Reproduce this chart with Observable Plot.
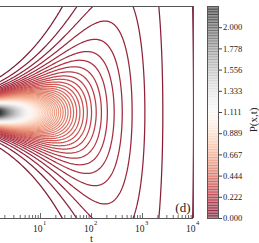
<!DOCTYPE html>
<html><head><meta charset="utf-8">
<script src="https://cdn.jsdelivr.net/npm/d3@7"></script>
<script src="https://cdn.jsdelivr.net/npm/@observablehq/plot@0.6"></script>
<style>
body{margin:0;background:#fff;}
#wrap{display:flex;flex-direction:row;width:259px;height:243px;overflow:hidden;}
#wrap svg{display:block;}
</style></head><body><div id="wrap"></div>
<script>
// ---- values ----
const tVisible = [1.643, 10000];          // visible t range (left part of the panel is cropped)
const tFull = [1, 10000];                  // original axis range (axis title is centred on it)
const xRange = [-1, 1];                    // position coordinate (its axis is cropped away)
const majorTicks = [10, 100, 1000, 10000];
const minorTicks = [2,3,4,5,6,7,8,9, 20,30,40,50,60,70,80,90, 200,300,400,500,600,700,800,900, 2000,3000,4000,5000,6000,7000,8000,9000];
const colorTicks = [0, 0.2222, 0.4444, 0.6667, 0.8889, 1.1111, 1.3333, 1.5556, 1.7778, 2.0];
const colorMax = 2.2222;
const levelCount = 80;                     // contour levels between 0 and colorMax
// P(x,t) = amp * t^-decay * exp(1 - sqrt(1 + x^2 / (width0^2 t)))  (Gaussian core, exponential tails)
const amp = 2.78, decay = 0.5, width0 = 0.0503;
const panelLabel = "(d)";
const xLabel = "t";
const colorLabel = "P(x,t)";

const levels = d3.range(1, levelCount).map(k => k * colorMax / levelCount);
const bands = d3.range(0, levelCount).map(k => ({lo: k * colorMax / levelCount, hi: (k + 1) * colorMax / levelCount, v: (k + 0.5) * colorMax / levelCount}));
const P = (t, x) => amp * Math.pow(t, -decay) * Math.exp(1 - Math.sqrt(1 + x * x / (width0 * width0 * t)));

const color = {type: "linear", domain: [0, colorMax], interpolate: () => (u => d3.interpolateRgb(d3.interpolateRdGy(u), "#ffffff")(0.1))};
const serif = "'Liberation Serif', 'DejaVu Serif', serif";
const axisGray = "#444";

const main = Plot.plot({
  width: 200, height: 243,
  marginLeft: 0, marginRight: 7, marginTop: 6, marginBottom: 25,
  style: {fontFamily: serif, background: "white", color: "#222"},
  x: {type: "log", domain: tVisible, axis: null},
  y: {domain: xRange, axis: null},
  color,
  marks: [
    Plot.contour({
      value: P, stroke: "value", fill: "none",
      x1: tVisible[0] / 1.3, x2: tVisible[1] * 1.3, y1: xRange[0] * 1.15, y2: xRange[1] * 1.15,
      thresholds: levels, pixelSize: 1, strokeWidth: 1.25, clip: true
    }),
    Plot.ruleY([xRange[1]], {stroke: "#555", strokeWidth: 1}),
    Plot.ruleY([xRange[0]], {stroke: "#555", strokeWidth: 1}),
    Plot.ruleX([tVisible[1]], {stroke: "#555", strokeWidth: 1}),
    Plot.ruleX(minorTicks, {y1: xRange[0], y2: xRange[0], insetTop: -3, stroke: axisGray, strokeWidth: 0.8}),
    Plot.ruleX(majorTicks, {y1: xRange[0], y2: xRange[0], insetTop: -5, stroke: axisGray, strokeWidth: 0.8}),
    Plot.text(majorTicks, {x: d => d, frameAnchor: "bottom", text: () => "10", textAnchor: "end", lineAnchor: "middle", dx: 2, dy: 10, fontSize: 9.5, fill: "#222"}),
    Plot.text(majorTicks, {x: d => d, frameAnchor: "bottom", text: d => String(Math.round(Math.log10(d))), textAnchor: "start", lineAnchor: "middle", dx: 2.5, dy: 4.5, fontSize: 6.5, fill: "#222"}),
    Plot.text([xLabel], {x: Math.sqrt(tFull[0] * tFull[1]), frameAnchor: "bottom", lineAnchor: "middle", dy: 20, fontSize: 10.5, fill: "#222"}),
    Plot.text([panelLabel], {frameAnchor: "bottom-right", textAnchor: "end", lineAnchor: "bottom", dx: -3, dy: -7, fontSize: 13, fill: "#222"})
  ]
});

const bar = Plot.plot({
  width: 59, height: 243,
  marginLeft: 7, marginRight: 41, marginTop: 6, marginBottom: 25,
  style: {fontFamily: serif, background: "white", color: "#222"},
  x: {domain: [0, 1], axis: null},
  y: {domain: [0, colorMax], axis: null},
  color,
  marks: [
    Plot.rect(bands, {x1: 0, x2: 1, y1: "lo", y2: "hi", fill: "v", fillOpacity: 0.55}),
    Plot.ruleY(levels, {stroke: d => d, strokeWidth: 1, strokeOpacity: 0.9}),
    Plot.frame({stroke: "#555"}),
    Plot.axisY(colorTicks, {anchor: "right", tickSize: 3, tickPadding: 1.5, tickFormat: d3.format(".3f"), fontSize: 8.5, label: null, stroke: axisGray}),
    Plot.text([colorLabel], {frameAnchor: "right", rotate: -90, dx: 35, dy: -5, fontSize: 11, fill: "#222"})
  ]
});

document.getElementById("wrap").append(main, bar);
</script></body></html>
